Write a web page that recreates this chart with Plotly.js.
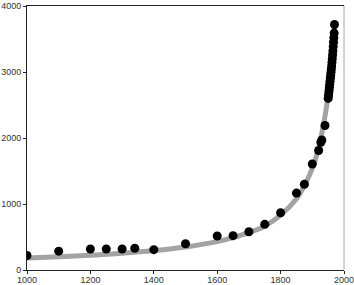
<!DOCTYPE html>
<html>
<head>
<meta charset="utf-8">
<script src="https://cdn.plot.ly/plotly-3.0.1.min.js"></script>
<style>html,body{margin:0;padding:0;background:#fff;}#chart{width:354px;height:285px;}</style>
</head>
<body>
<div id="chart"></div>
<script>
// Observed points (year, population in millions)
const pointYears = [1000, 1100, 1200, 1250, 1300, 1340, 1400, 1500, 1600, 1650, 1700, 1750, 1800, 1850, 1875, 1900, 1920, 1927, 1930, 1940,
  1950, 1951, 1952, 1953, 1954, 1955, 1956, 1957, 1958, 1959, 1960, 1961, 1962, 1963, 1964, 1965, 1966, 1967, 1968, 1969, 1970];
const pointValues = [220, 285, 318, 318, 318, 330, 308, 398, 515, 520, 580, 692, 868, 1165, 1300, 1606, 1810, 1935, 1970, 2190,
  2600, 2640, 2680, 2725, 2770, 2815, 2860, 2905, 2950, 2995, 3040, 3090, 3145, 3200, 3260, 3320, 3385, 3450, 3520, 3590, 3720];

// Fitted trend curve
const curveYears = [1000, 1100, 1200, 1300, 1400, 1500, 1600, 1650, 1700, 1750, 1800, 1850, 1875, 1900, 1920, 1940, 1950, 1960, 1970];
const curveValues = [182, 202, 225, 255, 295, 350, 430, 490, 565, 665, 830, 1080, 1280, 1540, 1850, 2330, 2650, 3100, 3700];

const xTicks = [1000, 1200, 1400, 1600, 1800, 2000];
const yTicks = [0, 1000, 2000, 3000, 4000];

const traces = [
  {
    x: curveYears, y: curveValues, type: 'scatter', mode: 'lines',
    line: {color: '#a3a3a3', width: 5, shape: 'spline', smoothing: 1},
    hoverinfo: 'skip'
  },
  {
    x: pointYears, y: pointValues, type: 'scatter', mode: 'markers',
    marker: {color: '#000', size: 9}
  }
];

const font = {family: 'Arial, "Liberation Sans", sans-serif', size: 9, color: '#333'};

const layout = {
  width: 354, height: 285,
  margin: {l: 27, r: 10, t: 6, b: 15, pad: 0},
  paper_bgcolor: '#fff', plot_bgcolor: '#fff',
  showlegend: false,
  font: font,
  xaxis: {
    range: [1000, 2000], tickvals: xTicks, ticktext: xTicks.map(String),
    showgrid: false, zeroline: false, showline: true, linecolor: '#222', linewidth: 1,
    mirror: true, ticks: 'outside', ticklen: 3, tickcolor: '#222', tickfont: font,
    ticklabeloverflow: 'allow', ticklabelstandoff: -2
  },
  yaxis: {
    range: [0, 4000], tickvals: yTicks, ticktext: yTicks.map(String),
    showgrid: false, zeroline: false, showline: true, linecolor: '#222', linewidth: 1,
    ticks: 'outside', ticklen: 3, tickcolor: '#222', tickfont: font,
    ticklabeloverflow: 'allow'
  },
  shapes: [
    {type: 'line', xref: 'paper', yref: 'paper', x0: 1, x1: 1, y0: 0, y1: 1,
     line: {color: '#a8a8a8', width: 1}}
  ]
};

Plotly.newPlot('chart', traces, layout, {displayModeBar: false, staticPlot: true});
</script>
</body>
</html>
